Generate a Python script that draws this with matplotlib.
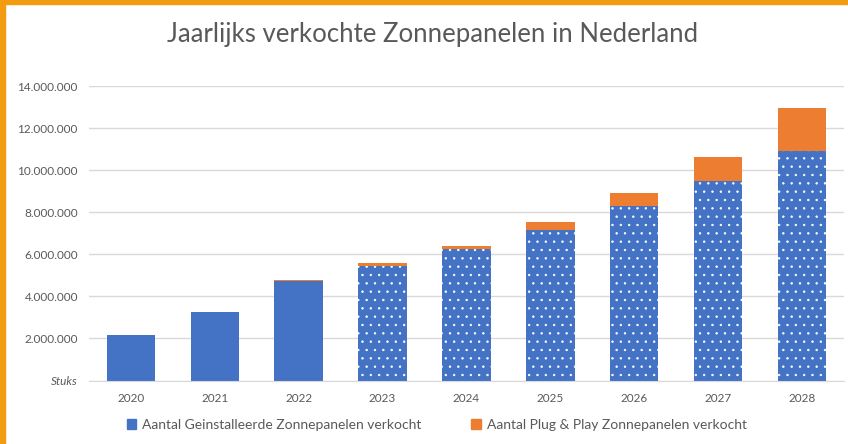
import matplotlib.pyplot as plt
import matplotlib.patches as mpatches
from matplotlib.ticker import FuncFormatter
import numpy as np

# Data (stuks)
years = ['2020', '2021', '2022', '2023', '2024', '2025', '2026', '2027', '2028']
geinstalleerd = [2150000, 3250000, 4720000, 5450000, 6250000, 7180000, 8300000, 9500000, 10920000]
plug_play = [0, 0, 50000, 120000, 170000, 340000, 600000, 1120000, 2060000]
prognose = [False, False, False, True, True, True, True, True, True]

blue = '#4472C4'
orange = '#ED7D31'
grey_text = '#595959'

plt.rcParams['font.family'] = ['Lato', 'DejaVu Sans']
plt.rcParams['hatch.color'] = 'white'
plt.rcParams['hatch.linewidth'] = 0.5

fig = plt.figure(figsize=(8.48, 4.44), dpi=100)
ax = fig.add_axes([0.105, 0.143, 0.89, 0.663])

x = np.arange(len(years))
for i in range(len(years)):
    ax.bar(x[i], geinstalleerd[i], width=0.58, color=blue, linewidth=0,
           hatch='..' if prognose[i] else None, zorder=2)
ax.bar(x, plug_play, width=0.58, bottom=geinstalleerd, color=orange, linewidth=0, zorder=2)

ax.set_xlim(-0.5, len(years) - 0.5)
ax.set_ylim(0, 14000000)
ax.set_yticks(np.arange(0, 14000001, 2000000))


def fmt(v, pos):
    if v == 0:
        return 'Stuks'
    return f'{int(v):,}'.replace(',', '.')


ax.yaxis.set_major_formatter(FuncFormatter(fmt))
ax.set_xticks(x)
ax.set_xticklabels(years)
ax.tick_params(axis='both', length=0, colors=grey_text, labelsize=8.5)
ax.tick_params(axis='y', pad=8)
ax.tick_params(axis='x', pad=9)
ax.get_yticklabels()[0].set_style('italic')

ax.grid(axis='y', color='#D9D9D9', linewidth=1, zorder=0)
ax.set_axisbelow(True)
for s in ['top', 'right', 'left']:
    ax.spines[s].set_visible(False)
ax.spines['bottom'].set_color('#D9D9D9')

fig.text(0.51, 0.922, 'Jaarlijks verkochte Zonnepanelen in Nederland',
         ha='center', va='center', fontsize=18.5, color=grey_text)

handles = [mpatches.Patch(color=blue, label='Aantal Geinstalleerde Zonnepanelen verkocht'),
           mpatches.Patch(color=orange, label='Aantal Plug & Play Zonnepanelen verkocht')]
fig.legend(handles=handles, loc='center', bbox_to_anchor=(0.515, 0.043), ncol=2, frameon=False,
           fontsize=10, handlelength=0.7, handleheight=0.7, handletextpad=0.4,
           columnspacing=3.6, labelcolor=grey_text)

# orange frame on top and left edge
fig.patches.append(mpatches.Rectangle((0, 0), 0.006, 1, transform=fig.transFigure,
                                      color='#F39C12', zorder=10))
fig.patches.append(mpatches.Rectangle((0, 0.99), 1, 0.01, transform=fig.transFigure,
                                      color='#F39C12', zorder=10))

fig.savefig('out.png', dpi=100)
